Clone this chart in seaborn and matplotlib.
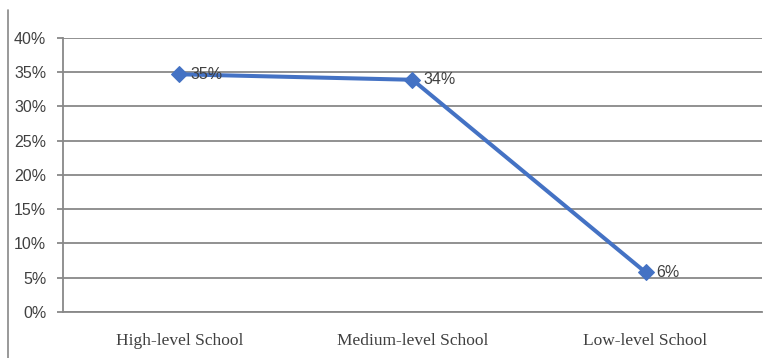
import matplotlib
matplotlib.use("Agg")
import matplotlib.pyplot as plt
import seaborn as sns
import pandas as pd
from matplotlib.lines import Line2D
from matplotlib.ticker import FuncFormatter

categories = ["High-level School", "Medium-level School", "Low-level School"]
values = [34.7, 33.9, 5.8]
labels = ["35%", "34%", "6%"]
yticks = [0, 5, 10, 15, 20, 25, 30, 35, 40]

df = pd.DataFrame({"school": categories, "pct": values})

sns.set_theme(style="white")
plt.rcParams["font.family"] = ["Liberation Sans", "DejaVu Sans"]

fig = plt.figure(figsize=(7.67, 3.58), dpi=100)
ax = fig.add_axes([0.0821, 0.1285, 0.9114, 0.7654])

sns.lineplot(data=df, x="school", y="pct", sort=False, ax=ax, color="#4472C4",
             linewidth=2.9, marker="D", markersize=8.5, markeredgecolor="#4472C4")

for i, (v, t) in enumerate(zip(values, labels)):
    ax.annotate(t, (i, v), xytext=(8, 0), textcoords="offset points",
                ha="left", va="center", fontsize=11.5, color="#404040")

ax.set_xlim(-0.5, 2.5)
ax.set_ylim(0, 40)
ax.set_yticks(yticks)
ax.yaxis.set_major_formatter(FuncFormatter(lambda v, p: f"{int(v)}%"))
ax.grid(axis="y", color="#888888", linewidth=1.3)
ax.grid(axis="x", visible=False)
ax.set_axisbelow(True)
ax.set_xlabel("")
ax.set_ylabel("")
for s in ["top", "right"]:
    ax.spines[s].set_visible(False)
for s in ["left", "bottom"]:
    ax.spines[s].set_visible(True)
    ax.spines[s].set_color("#888888")
    ax.spines[s].set_linewidth(1.3)
ax.tick_params(axis="y", which="major", left=True, length=4, width=1.3,
               color="#888888", pad=8, labelsize=11.5, labelcolor="#404040")
ax.tick_params(axis="x", bottom=False, pad=9)
for lab in ax.get_xticklabels():
    lab.set_fontfamily("Liberation Serif")
    lab.set_fontsize(12.5)
    lab.set_color("#404040")

fig.add_artist(Line2D([8 / 767, 8 / 767], [0, 1 - 10 / 358], transform=fig.transFigure,
                      color="#888888", linewidth=1.2))

fig.savefig("out.png", dpi=100, facecolor="white")
